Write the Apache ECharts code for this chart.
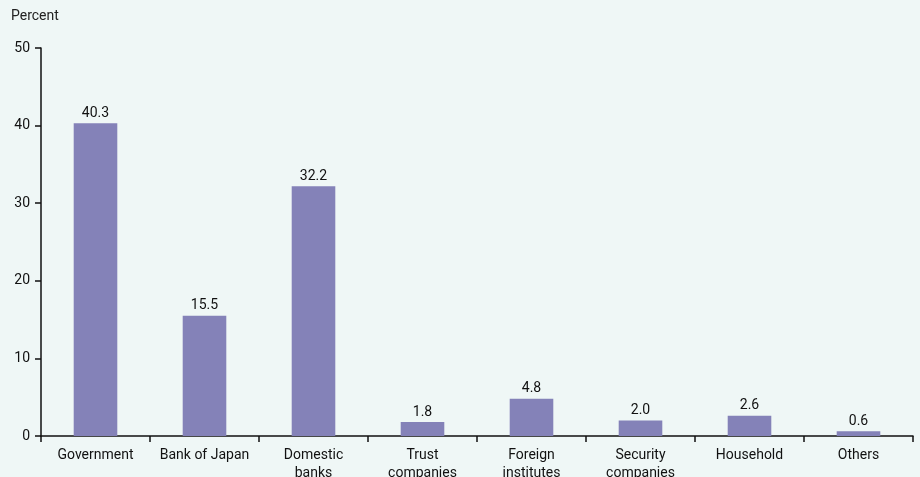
<!DOCTYPE html>
<html><head><meta charset="utf-8">
<script src="https://cdn.jsdelivr.net/npm/echarts@6/dist/echarts.min.js"></script>
<style>html,body{margin:0;padding:0;background:#eff7f6;}#c{width:920px;height:477px;}</style>
</head><body><div id="c"></div>
<script>
const categories = ["Government","Bank of Japan","Domestic\nbanks","Trust\ncompanies","Foreign\ninstitutes","Security\ncompanies","Household","Others"];
const values = [40.3,15.5,32.2,1.8,4.8,2.0,2.6,0.6];
const valueLabels = ["40.3","15.5","32.2","1.8","4.8","2.0","2.6","0.6"];
const yTicks = [0,10,20,30,40,50];
const font = 'Roboto,"Liberation Sans Narrow","DejaVu Sans Condensed",sans-serif';
const chart = echarts.init(document.getElementById('c'));
chart.setOption({
  backgroundColor:'#eff7f6',
  animation:false,
  grid:{left:41,right:7,top:48,bottom:41,containLabel:false,outerBoundsMode:'none'},
  graphic:[{type:'text',left:11,top:9,style:{text:'Percent',font:'14px '+font,fill:'#222'}}],
  xAxis:{type:'category',data:categories,
    axisLine:{lineStyle:{color:'#111',width:1.5}},
    axisTick:{show:true,length:6,lineStyle:{color:'#111',width:1.5},alignWithLabel:false},
    axisLabel:{color:'#111',fontFamily:font,fontSize:14,margin:10,lineHeight:18,interval:0}},
  yAxis:{type:'value',min:0,max:50,interval:10,
    axisLine:{show:true,lineStyle:{color:'#111',width:1.5}},
    axisTick:{show:true,length:6,lineStyle:{color:'#111',width:1.5}},
    splitLine:{show:false},
    axisLabel:{color:'#111',fontFamily:font,fontSize:14,margin:11,
      formatter:v=>yTicks.includes(v)?String(v):''}},
  series:[{type:'bar',data:values,barWidth:'40%',itemStyle:{color:'#8482b8'},
    label:{show:true,position:'top',distance:3,color:'#111',fontFamily:font,fontSize:14,
      formatter:p=>valueLabels[p.dataIndex]}}]
});
</script></body></html>
